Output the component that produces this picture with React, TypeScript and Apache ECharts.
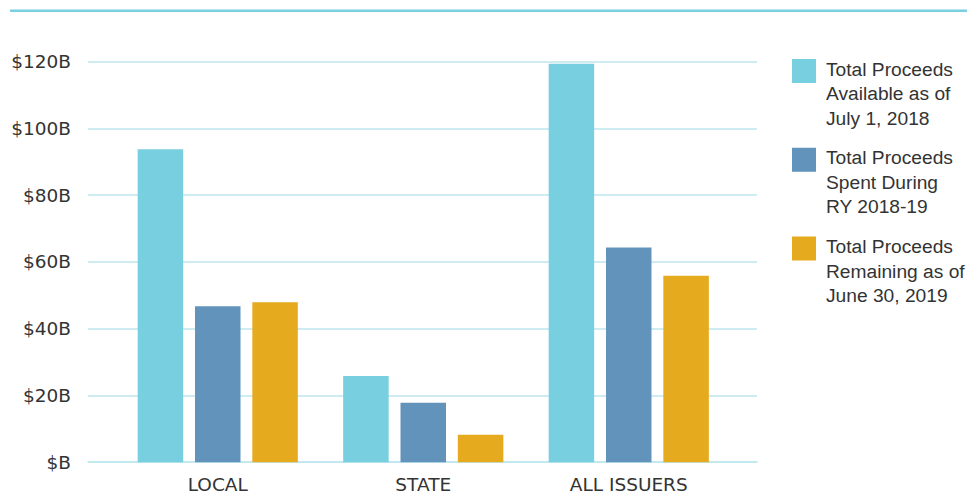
import React, { useEffect, useRef } from "react";
import * as echarts from "echarts";

// Issuer groups along the x axis
const categories = ["LOCAL", "STATE", "ALL ISSUERS"];

// Proceeds in billions of dollars
const availableJul2018 = [93.7, 25.8, 119.3];
const spentRY2018_19 = [46.7, 17.8, 64.3];
const remainingJun2019 = [47.9, 8.2, 55.8];

const seriesNames = [
  "Total Proceeds Available as of July 1, 2018",
  "Total Proceeds Spent During RY 2018-19",
  "Total Proceeds Remaining as of June 30, 2019",
];
const legendLines: Record<string, string> = {
  [seriesNames[0]]: "Total Proceeds\nAvailable as of\nJuly 1, 2018",
  [seriesNames[1]]: "Total Proceeds\nSpent During\nRY 2018-19",
  [seriesNames[2]]: "Total Proceeds\nRemaining as of\nJune 30, 2019",
};

const yMin = 0;
const yMax = 120;
const yStep = 20;

const colors = ["#77cfe0", "#6193bb", "#e6aa1e"];
const gridColor = "#bfe6ef";
const textColor = "#333333";

export default function App() {
  const ref = useRef<HTMLDivElement>(null);

  useEffect(() => {
    if (!ref.current) return;
    const chart = echarts.init(ref.current, undefined, { renderer: "svg" });

    const seriesData = [availableJul2018, spentRY2018_19, remainingJun2019];

    chart.setOption({
      animation: false,
      backgroundColor: "#ffffff",
      color: colors,
      graphic: [
        {
          type: "line",
          shape: { x1: 10, y1: 10.8, x2: 967, y2: 10.8 },
          style: { stroke: "#7bcfe0", lineWidth: 2.4 },
        },
      ],
      legend: {
        orient: "vertical",
        left: 792,
        top: 57,
        padding: 0,
        itemGap: 15.2,
        itemWidth: 29,
        itemHeight: 73.5,
        selectedMode: false,
        icon: "path://M0,2h24v24h-24z M0,0h0.01v0.01h-0.01z M29,73.5h0.01v0.01h-0.01z",
        data: seriesNames,
        formatter: (name: string) => legendLines[name] ?? name,
        textStyle: {
          fontFamily: "Liberation Sans, Arial, sans-serif",
          fontSize: 19.2,
          lineHeight: 24.5,
          color: textColor,
        },
      },
      grid: [
        // full-width grid carrying the value labels and guide lines
        { left: 88, right: 210, top: 61.5, bottom: 33.8 },
        // narrower grid holding the bar groups
        { left: 115, right: 235.5, top: 61.5, bottom: 33.8 },
      ],
      xAxis: [
        {
          gridIndex: 0,
          type: "category",
          data: categories,
          axisLine: { show: true, lineStyle: { color: gridColor, width: 1.6 } },
          axisTick: { show: false },
          axisLabel: { show: false },
        },
        {
          gridIndex: 1,
          type: "category",
          data: categories,
          axisLine: { show: false },
          axisTick: { show: false },
          axisLabel: {
            margin: 13,
            fontFamily: "DejaVu Sans, sans-serif",
            fontSize: 18.5,
            color: textColor,
          },
        },
      ],
      yAxis: [
        {
          gridIndex: 0,
          type: "value",
          min: yMin,
          max: yMax,
          interval: yStep,
          axisLine: { show: false },
          axisTick: { show: false },
          splitLine: { lineStyle: { color: gridColor, width: 1.6 } },
          axisLabel: {
            margin: 17,
            fontFamily: "DejaVu Sans, sans-serif",
            fontSize: 18.5,
            color: textColor,
            formatter: (v: number) => (v === 0 ? "$B" : `$${v}B`),
          },
        },
        {
          gridIndex: 1,
          type: "value",
          min: yMin,
          max: yMax,
          interval: yStep,
          show: false,
        },
      ],
      series: seriesNames.map((name, i) => ({
        name,
        type: "bar",
        xAxisIndex: 1,
        yAxisIndex: 1,
        data: seriesData[i],
        barWidth: 45.5,
        barGap: "26%",
        itemStyle: { color: colors[i] },
      })),
    });

    return () => chart.dispose();
  }, []);

  return (
    <div
      ref={ref}
      style={{ position: "fixed", left: 0, top: 0, width: 967, height: 496, background: "#fff" }}
    />
  );
}
